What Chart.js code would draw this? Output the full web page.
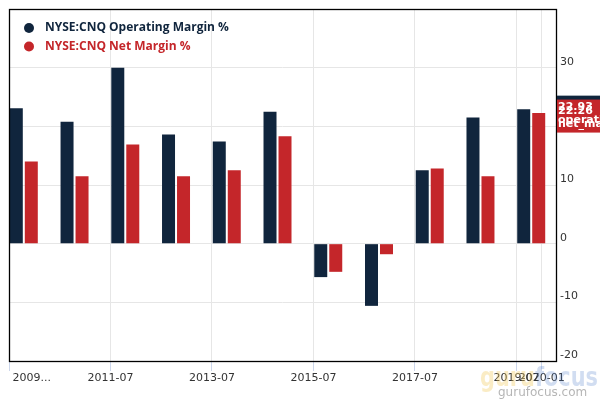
<!DOCTYPE html>
<html><head><meta charset="utf-8">
<script src="https://cdn.jsdelivr.net/npm/chart.js@4/dist/chart.umd.min.js"></script>
<style>html,body{margin:0;padding:0;background:#fff}#wrap{width:600px;height:400px;position:relative}</style>
</head><body><div id="wrap"><canvas id="c" width="600" height="400"></canvas></div>
<script>
// ---- data ----
const periods = ['2009-10','2010-10','2011-10','2012-10','2013-10','2014-10','2015-10','2016-10','2017-10','2018-10','2019-10'];
const operatingMargin = [23.1, 20.8, 30.0, 18.6, 17.4, 22.5, -5.7, -10.6, 12.5, 21.5, 22.93];
const netMargin = [14.0, 11.5, 16.9, 11.5, 12.5, 18.3, -4.8, -1.8, 12.8, 11.5, 22.26];
const seriesNames = ['NYSE:CNQ Operating Margin %', 'NYSE:CNQ Net Margin %'];
const seriesKeys = ['operating_margin', 'net_margin'];
const xTickDates = ['2009-07','2011-07','2013-07','2015-07','2017-07','2019-07','2020-01'];
const xTickLabels = ['2009...','2011-07','2013-07','2015-07','2017-07','2019-07','2020-01'];
const yTickValues = [-20, -10, 0, 10, 20, 30, 40];

const NAVY = '#10253d';
const RED = '#c4262a';

const toYearMid = p => { const [y, m] = p.split('-').map(Number); return y + (m - 0.5) / 12; };
const toYearStart = p => { const [y, m] = p.split('-').map(Number); return y + (m - 1) / 12; };
const XMIN = 2009.5, XMAX = 2020.28;

const framePlugin = {
  id: 'frame',
  afterDatasetsDraw(chart) {
    const a = chart.chartArea, ctx = chart.ctx;
    ctx.save();
    ctx.strokeStyle = '#000';
    ctx.lineWidth = 1.3;
    ctx.strokeRect(a.left + 0.5, a.top + 0.5, a.right - a.left, a.bottom - a.top);
    ctx.restore();
  }
};

const legendPlugin = {
  id: 'customLegend',
  afterDraw(chart) {
    const ctx = chart.ctx;
    ctx.save();
    const cols = [NAVY, RED];
    seriesNames.forEach((name, i) => {
      const cy = 28 + i * 18.5;
      ctx.fillStyle = cols[i];
      ctx.beginPath(); ctx.arc(29, cy, 5, 0, Math.PI * 2); ctx.fill();
      ctx.font = 'bold 12px "Open Sans"';
      ctx.textBaseline = 'middle';
      ctx.textAlign = 'left';
      ctx.fillText(name, 45, cy);
    });
    ctx.restore();
  }
};

const lastValuePlugin = {
  id: 'lastValue',
  afterDraw(chart) {
    const ctx = chart.ctx, y = chart.scales.y, a = chart.chartArea;
    const vals = [operatingMargin[operatingMargin.length - 1], netMargin[netMargin.length - 1]];
    const cols = [NAVY, RED];
    const tops = vals.map(v => y.getPixelForValue(v) - 13.5);
    ctx.save();
    tops.forEach((t, i) => { ctx.fillStyle = cols[i]; ctx.fillRect(a.right + 1, t, 600 - a.right, 33); });
    ctx.fillStyle = '#fff';
    ctx.font = 'bold 11px "DejaVu Sans"';
    ctx.textAlign = 'left';
    ctx.textBaseline = 'alphabetic';
    tops.forEach((t, i) => {
      ctx.fillText(vals[i].toFixed(2), a.right + 2, t + 14);
      ctx.fillText(seriesKeys[i], a.right + 2, t + 27);
    });
    ctx.restore();
  }
};

const watermarkPlugin = {
  id: 'watermark',
  afterDraw(chart) {
    const ctx = chart.ctx;
    ctx.save();
    ctx.font = 'bold 26px "DejaVu Sans"';
    ctx.textBaseline = 'alphabetic';
    ctx.textAlign = 'left';
    const w1 = ctx.measureText('guru').width, w2 = ctx.measureText('focus').width;
    const sx = 118 / (w1 + w2);
    ctx.translate(480, 386);
    ctx.scale(sx, 1);
    ctx.fillStyle = 'rgba(240,200,90,0.35)';
    ctx.fillText('guru', 0, 0);
    ctx.fillStyle = 'rgba(70,120,200,0.25)';
    ctx.fillText('focus', w1, 0);
    ctx.setTransform(1, 0, 0, 1, 0, 0);
    ctx.font = '12px "DejaVu Sans"';
    ctx.fillStyle = 'rgba(150,150,150,0.7)';
    ctx.fillText('gurufocus.com', 498, 396);
    ctx.restore();
  }
};

new Chart(document.getElementById('c'), {
  type: 'bar',
  data: {
    datasets: [
      { label: seriesNames[0], data: periods.map((p, i) => ({ x: toYearMid(p), y: operatingMargin[i] })),
        backgroundColor: NAVY, barPercentage: 0.8667, categoryPercentage: 0.591, xAxisID: 'x', yAxisID: 'y' },
      { label: seriesNames[1], data: periods.map((p, i) => ({ x: toYearMid(p), y: netMargin[i] })),
        backgroundColor: RED, barPercentage: 0.8667, categoryPercentage: 0.591, xAxisID: 'x', yAxisID: 'y' }
    ]
  },
  options: {
    responsive: false,
    animation: false,
    layout: { padding: { left: 9, top: 9, right: 0, bottom: 0 } },
    plugins: { legend: { display: false }, tooltip: { enabled: false } },
    scales: {
      x: {
        type: 'linear', display: false, min: XMIN, max: XMAX, offset: false,
        afterBuildTicks: s => { s.ticks = [{ value: XMIN }]; }
      },
      xt: {
        type: 'linear', position: 'bottom', min: XMIN, max: XMAX, offset: false,
        afterBuildTicks: s => { s.ticks = xTickDates.map(d => ({ value: toYearStart(d) })); },
        ticks: {
          autoSkip: false, maxRotation: 0, minRotation: 0, padding: 1,
          color: '#333', font: { family: 'DejaVu Sans', size: 11 },
          callback: (v, i) => i === 0 ? '             ' + xTickLabels[i] : xTickLabels[i]
        },
        grid: { color: '#e6e6e6', tickColor: '#ccd6eb', tickLength: 10, drawTicks: true, offset: false },
        border: { display: false },
        afterFit: s => { s.height = 39; s.paddingLeft = 0; s.paddingRight = 0; }
      },
      y: {
        position: 'right', min: -20, max: 40,
        afterBuildTicks: s => { s.ticks = yTickValues.map(v => ({ value: v })); },
        ticks: {
          padding: 4, labelOffset: -6, color: '#333', font: { family: 'DejaVu Sans', size: 11 },
          callback: v => v === 40 ? '' : String(v)
        },
        grid: { color: '#e6e6e6', drawTicks: false },
        border: { display: false },
        afterFit: s => { s.width = 44; s.paddingTop = 0; s.paddingBottom = 0; }
      }
    }
  },
  plugins: [framePlugin, legendPlugin, lastValuePlugin, watermarkPlugin]
});
</script>
</body></html>
